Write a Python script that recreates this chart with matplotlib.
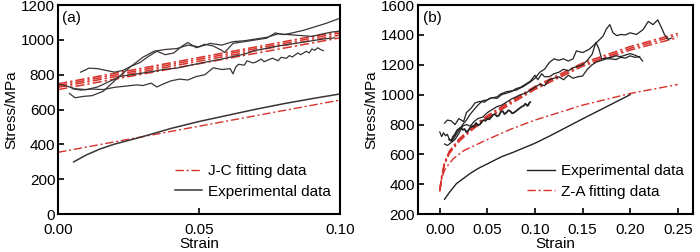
import matplotlib
matplotlib.use("Agg")
import matplotlib.pyplot as plt

plt.rcParams['font.family'] = ['Liberation Sans', 'DejaVu Sans']
plt.rcParams['font.size'] = 11

RED = '#d8322c'
DARK = '#3b3434'
DASHDOT = (0, (6, 2, 1.5, 2))

# ---------------- panel (a) ----------------
a_exp_lo_x = [0.0055, 0.01, 0.015, 0.02, 0.03, 0.04, 0.05, 0.06, 0.07, 0.08, 0.09, 0.1]
a_exp_lo_y = [300, 340, 375, 402, 445, 492, 532, 567, 602, 634, 663, 690]

a_fit_lo_x = [0.0, 0.1]
a_fit_lo_y = [355, 655]

a_fit_x = [0.0, 0.1]
a_fit1_y = [748, 1050]
a_fit2_y = [738, 1040]
a_fit3_y = [728, 1028]
a_fit4_y = [715, 1012]

a_A_x = [0.008, 0.011, 0.014, 0.017, 0.02, 0.023, 0.026, 0.029, 0.032, 0.035, 0.038,
         0.041, 0.044, 0.046, 0.049, 0.052, 0.055, 0.058, 0.059, 0.062, 0.066, 0.07,
         0.074, 0.077, 0.08, 0.083, 0.087, 0.091, 0.095, 0.1]
a_A_y = [815, 838, 835, 825, 815, 825, 850, 870, 905, 935, 915,
         925, 965, 985, 955, 975, 965, 940, 928, 980, 990, 1000,
         1010, 1040, 1030, 1040, 1055, 1075, 1095, 1125]

a_B_x = [0.004, 0.006, 0.009, 0.012, 0.016, 0.019, 0.022, 0.026, 0.03, 0.034, 0.038,
         0.042, 0.046, 0.05, 0.054, 0.058, 0.062, 0.066, 0.07, 0.074, 0.078, 0.082,
         0.086, 0.09, 0.094, 0.097, 0.1]
a_B_y = [693, 668, 676, 680, 705, 750, 795, 850, 900, 935, 945,
         950, 970, 960, 980, 970, 990, 995, 1005, 1015, 1035, 1030,
         1025, 1020, 1035, 1045, 1050]

a_C_x = [0.0, 0.003, 0.006, 0.01, 0.014, 0.018, 0.022, 0.026, 0.03, 0.034, 0.038,
         0.042, 0.046, 0.05, 0.054, 0.058, 0.062, 0.066, 0.07, 0.074, 0.078, 0.082,
         0.086, 0.09, 0.094, 0.098]
a_C_y = [748, 735, 720, 715, 730, 760, 790, 800, 810, 820, 832,
         838, 852, 865, 878, 890, 905, 918, 940, 952, 965, 975,
         985, 995, 1005, 1012]

a_D_x = [0.005, 0.008, 0.012, 0.016, 0.02, 0.024, 0.028, 0.03, 0.033, 0.035, 0.037,
         0.04, 0.043, 0.046, 0.049, 0.052, 0.055, 0.058, 0.061, 0.062, 0.063, 0.064,
         0.066, 0.067, 0.069, 0.07, 0.072, 0.073, 0.076, 0.078, 0.079, 0.081, 0.082,
         0.083, 0.085, 0.086, 0.088, 0.089, 0.09, 0.091, 0.092, 0.093, 0.094]
a_D_y = [720, 712, 718, 715, 728, 735, 742, 738, 752, 730, 745,
         765, 775, 770, 790, 800, 840, 830, 835, 805, 845, 860,
         855, 880, 868, 872, 890, 875, 895, 880, 900, 895, 910,
         902, 925, 915, 935, 925, 948, 940, 955, 945, 938]

# ---------------- panel (b) ----------------
b_exp_lo_x = [0.005, 0.01, 0.0175, 0.025, 0.0315, 0.04, 0.05, 0.065, 0.077, 0.1, 0.115, 0.15, 0.2]
b_exp_lo_y = [300, 345, 405, 440, 471, 505, 537, 585, 614, 675, 722, 838, 1000]

b_fit_lo_x = [0.0, 0.002, 0.005, 0.01, 0.014, 0.025, 0.05, 0.075, 0.1, 0.15, 0.2, 0.25]
b_fit_lo_y = [351, 440, 494, 540, 570, 625, 700, 770, 830, 930, 1008, 1068]

b_fit_x = [0.0, 0.002, 0.005, 0.01, 0.02, 0.035, 0.05, 0.075, 0.1, 0.15, 0.2, 0.25]
b_fit1_y = [365, 455, 545, 622, 702, 790, 860, 960, 1055, 1212, 1322, 1410]
b_fit2_y = [360, 450, 540, 615, 695, 780, 850, 950, 1045, 1200, 1310, 1398]
b_fit3_y = [355, 445, 532, 606, 686, 770, 840, 940, 1035, 1190, 1298, 1382]

b_R1_x = [0.005, 0.008, 0.012, 0.016, 0.02, 0.025, 0.028, 0.033, 0.037, 0.042, 0.047,
          0.052, 0.06, 0.064, 0.07, 0.08, 0.088, 0.095, 0.1, 0.105, 0.11, 0.115, 0.12,
          0.125, 0.13, 0.135, 0.14, 0.1435, 0.15, 0.157, 0.1646, 0.1715, 0.175, 0.1786,
          0.182, 0.186, 0.19, 0.195, 0.2, 0.2066, 0.2136, 0.219, 0.224, 0.229, 0.233,
          0.236, 0.24, 0.243]
b_R1_y = [810, 830, 825, 800, 840, 820, 880, 910, 945, 955, 950,
          975, 985, 1005, 1020, 1030, 1055, 1085, 1110, 1150, 1170, 1215, 1240,
          1230, 1240, 1225, 1240, 1293, 1282, 1304, 1348, 1392, 1440, 1469,
          1414, 1395, 1403, 1400, 1414, 1403, 1436, 1490, 1469, 1501, 1447,
          1403, 1370, 1378]

b_R2_x = [0.0, 0.002, 0.004, 0.006, 0.008, 0.01, 0.013, 0.016, 0.02, 0.024, 0.028,
          0.032, 0.036, 0.04, 0.045, 0.05, 0.055, 0.06, 0.065, 0.07, 0.075, 0.08,
          0.085, 0.09, 0.095, 0.1, 0.103, 0.107, 0.11, 0.115, 0.12, 0.125, 0.13,
          0.135, 0.14, 0.145, 0.15, 0.155, 0.16, 0.164, 0.167, 0.17, 0.175, 0.18,
          0.185, 0.19, 0.195, 0.2, 0.205, 0.21, 0.213]
b_R2_y = [750, 720, 745, 725, 735, 700, 690, 720, 760, 800, 830,
          870, 900, 930, 960, 965, 980, 975, 1000, 1010, 1020, 1040,
          1050, 1070, 1090, 1130, 1100, 1140, 1120, 1120, 1140, 1150, 1170,
          1160, 1180, 1190, 1200, 1230, 1270, 1350, 1310, 1240, 1245, 1250,
          1260, 1255, 1265, 1275, 1265, 1250, 1225]

b_R3_x = [0.005, 0.008, 0.012, 0.016, 0.02, 0.024, 0.028, 0.032, 0.036, 0.04, 0.045,
          0.05, 0.055, 0.06, 0.065, 0.07, 0.075, 0.08, 0.085, 0.09, 0.095, 0.1,
          0.105, 0.11, 0.115, 0.12, 0.125, 0.13, 0.135, 0.14, 0.145, 0.15, 0.155,
          0.16, 0.165, 0.17, 0.175, 0.18, 0.185, 0.19, 0.195, 0.2, 0.205, 0.21]
b_R3_y = [670, 660, 680, 700, 740, 790, 800, 790, 820, 840, 850,
          880, 900, 920, 930, 950, 970, 985, 1000, 1010, 1030, 1050,
          1070, 1060, 1100, 1110, 1120, 1100, 1130, 1110, 1120, 1125, 1170,
          1200, 1220, 1230, 1240, 1240, 1235, 1250, 1245, 1260, 1250, 1255]

b_R4_x = [0.01, 0.012, 0.014, 0.016, 0.018, 0.02, 0.022, 0.024, 0.026, 0.028, 0.03,
          0.032, 0.034, 0.036, 0.038, 0.04, 0.042, 0.044, 0.046, 0.048, 0.05, 0.052,
          0.054, 0.056, 0.058, 0.06, 0.062, 0.064, 0.066, 0.068, 0.07, 0.072, 0.074,
          0.076, 0.078, 0.08, 0.082, 0.084, 0.086, 0.088, 0.09, 0.092, 0.093, 0.094,
          0.095]
b_R4_y = [700, 690, 720, 735, 760, 770, 780, 765, 770, 750, 760,
          780, 790, 785, 810, 795, 800, 820, 830, 825, 840, 835,
          850, 865, 870, 855, 860, 885, 890, 870, 880, 895, 890,
          875, 880, 890, 900, 910, 920, 925, 940, 925, 930, 945,
          950]


def style_axes(ax):
    for s in ax.spines.values():
        s.set_linewidth(1.5)
    ax.tick_params(direction='in', length=4, width=1.2, top=False, right=False,
                   labelsize=11, pad=2)
    ax.tick_params(axis='x', pad=6)


fig = plt.figure(figsize=(7, 2.52), dpi=100)

# panel (a)
ax1 = fig.add_axes([0.083, 0.15, 0.403, 0.83])
for fy in (a_fit1_y, a_fit2_y, a_fit3_y, a_fit4_y):
    ax1.plot(a_fit_x, fy, color=RED, lw=1.1, linestyle=DASHDOT)
ax1.plot(a_fit_lo_x, a_fit_lo_y, color=RED, lw=1.0, linestyle=DASHDOT)
for xs, ys in ((a_A_x, a_A_y), (a_B_x, a_B_y), (a_C_x, a_C_y), (a_D_x, a_D_y)):
    ax1.plot(xs, ys, color=DARK, lw=0.9)
ax1.plot(a_exp_lo_x, a_exp_lo_y, color=DARK, lw=1.1)
ax1.set_xlim(0, 0.1)
ax1.set_ylim(0, 1200)
ax1.set_xticks([0.0, 0.05, 0.10])
ax1.set_xticklabels(['0.00', '0.05', '0.10'])
ax1.set_yticks(range(0, 1201, 200))
ax1.set_xlabel('Strain', fontsize=11, labelpad=0)
ax1.set_ylabel('Stress/MPa', fontsize=11, labelpad=2)
ax1.text(0.015, 0.97, '(a)', transform=ax1.transAxes, ha='left', va='top', fontsize=11)
h1, = ax1.plot([], [], color=RED, lw=1.0, linestyle=DASHDOT)
h2, = ax1.plot([], [], color=DARK, lw=1.1)
ax1.legend([h1, h2], ['J-C fitting data', 'Experimental data'], loc='lower right',
           bbox_to_anchor=(1.0, 0.03), frameon=False, fontsize=11, handlelength=1.8,
           handletextpad=0.4, labelspacing=0.45, borderaxespad=0.2)
style_axes(ax1)

# panel (b)
ax2 = fig.add_axes([0.597, 0.15, 0.393, 0.83])
for fy in (b_fit1_y, b_fit2_y, b_fit3_y):
    ax2.plot(b_fit_x, fy, color=RED, lw=1.1, linestyle=DASHDOT)
ax2.plot(b_fit_lo_x, b_fit_lo_y, color=RED, lw=1.0, linestyle=DASHDOT)
for xs, ys in ((b_R1_x, b_R1_y), (b_R2_x, b_R2_y), (b_R3_x, b_R3_y)):
    ax2.plot(xs, ys, color='#222222', lw=0.9)
ax2.plot(b_R4_x, b_R4_y, color='#222222', lw=1.3)
ax2.plot(b_exp_lo_x, b_exp_lo_y, color='#222222', lw=1.0)
ax2.set_xlim(-0.023, 0.266)
ax2.set_ylim(200, 1600)
ax2.set_xticks([0.0, 0.05, 0.10, 0.15, 0.20, 0.25])
ax2.set_xticklabels(['0.00', '0.05', '0.10', '0.15', '0.20', '0.25'])
ax2.set_yticks(range(200, 1601, 200))
ax2.set_xlabel('Strain', fontsize=11, labelpad=0)
ax2.set_ylabel('Stress/MPa', fontsize=11, labelpad=2)
ax2.text(0.02, 0.97, '(b)', transform=ax2.transAxes, ha='left', va='top', fontsize=11)
g1, = ax2.plot([], [], color='#222222', lw=1.0)
g2, = ax2.plot([], [], color=RED, lw=1.0, linestyle=DASHDOT)
ax2.legend([g1, g2], ['Experimental data', 'Z-A fitting data'], loc='lower right',
           bbox_to_anchor=(1.0, 0.03), frameon=False, fontsize=11, handlelength=1.8,
           handletextpad=0.4, labelspacing=0.45, borderaxespad=0.2)
style_axes(ax2)

fig.savefig('out.png', dpi=100)
